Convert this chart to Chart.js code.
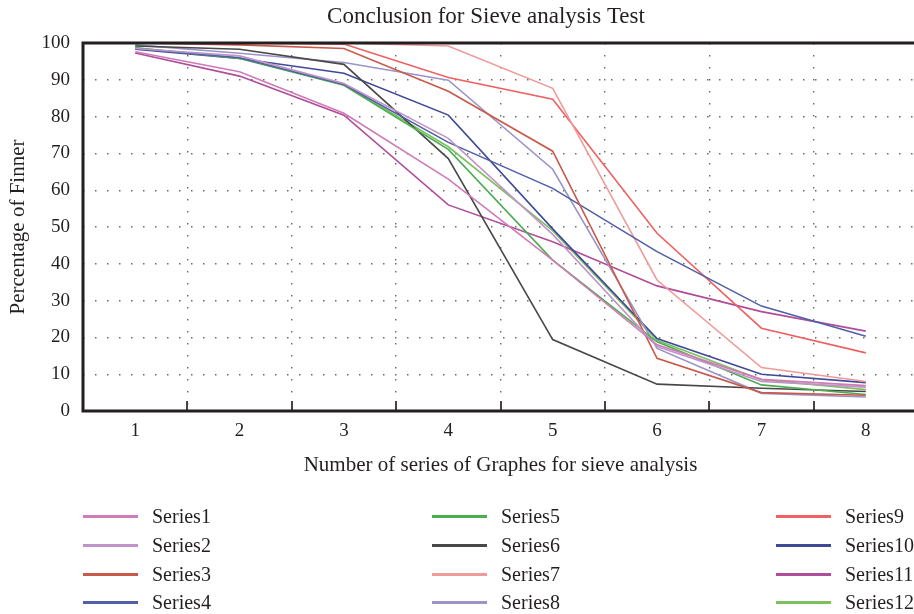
<!DOCTYPE html>
<html>
<head>
<meta charset="utf-8">
<script src="https://cdn.jsdelivr.net/npm/chart.js@4.4.1/dist/chart.umd.min.js"></script>
<style>
  html, body { margin:0; padding:0; background:#fff; overflow:hidden; width:914px; height:614px; }
  #wrap { position:absolute; left:0; top:0; width:918px; height:490px; }
  #legend { position:absolute; left:0; top:0; width:914px; height:614px; pointer-events:none;
            font-family:'Liberation Serif','Times New Roman',serif; color:#231f20; }
  .li-line { position:absolute; width:55px; height:3px; }
  .li-text { position:absolute; font-size:20px; line-height:24px; white-space:nowrap; }
</style>
</head>
<body>
<div id="wrap"><canvas id="c"></canvas></div>
<div id="legend"></div>
<script>
const categories = ['1','2','3','4','5','6','7','8'];
const yTicks = [0,10,20,30,40,50,60,70,80,90,100];
const seriesNames = ['Series1','Series2','Series3','Series4','Series5','Series6','Series7','Series8','Series9','Series10','Series11','Series12'];
const chartTitle = 'Conclusion for Sieve analysis Test';

const series1  = [97.6, 92.2, 80.9, 63.0, 41.0, 18.0, 8.6, 6.9];
const series2  = [98.5, 96.5, 89.0, 74.1, 48.0, 17.5, 8.0, 6.5];
const series3  = [100, 99.5, 98.5, 86.9, 70.6, 14.3, 5.0, 4.3];
const series4  = [98.5, 96.0, 88.7, 73.0, 60.5, 43.3, 28.5, 20.3];
const series5  = [98.7, 95.8, 88.5, 71.1, 41.0, 18.8, 7.1, 4.5];
const series6  = [99.2, 98.3, 94.2, 68.6, 19.4, 7.3, 6.2, 5.3];
const series7  = [100, 100, 100, 99.2, 87.7, 35.6, 11.8, 8.0];
const series8  = [99.5, 97.2, 94.7, 89.9, 65.7, 17.0, 4.8, 3.8];
const series9  = [100, 100, 99.7, 90.6, 84.7, 48.3, 22.5, 15.8];
const series10 = [98.3, 95.8, 91.8, 80.4, 49.5, 19.7, 10.0, 7.7];
const series11 = [97.3, 91.0, 80.4, 56.0, 46.0, 34.0, 27.0, 21.7];
const series12 = [98.7, 96.0, 88.7, 71.8, 49.0, 19.2, 8.5, 5.8];

const allSeries = [series1,series2,series3,series4,series5,series6,series7,series8,series9,series10,series11,series12];
const colors = ['#d07ab8','#c094c8','#c85a4a','#5060a8','#4aae50','#484848','#f09a9a','#9a94c8','#f06060','#3e4a98','#b04c9a','#7ec060'];

const FONT = "'Liberation Serif','Times New Roman',serif";
const INK = '#231f20';

const frame = {
  id: 'frame',
  afterDraw(chart) {
    const {ctx, chartArea:a, scales:{x}} = chart;
    ctx.save();
    // inward tick marks at category boundaries
    const half = (x.getPixelForValue(1) - x.getPixelForValue(0)) / 2;
    ctx.strokeStyle = '#444';
    ctx.lineWidth = 2;
    for (let i = 1; i < categories.length; i++) {
      const px = Math.round(x.getPixelForValue(i) - half);
      ctx.beginPath(); ctx.moveTo(px, a.bottom); ctx.lineTo(px, a.bottom - 10); ctx.stroke();
    }
    // frame: top, left, bottom
    ctx.strokeStyle = INK;
    ctx.lineWidth = 3;
    ctx.beginPath();
    ctx.moveTo(chart.width, a.top); ctx.lineTo(a.left, a.top);
    ctx.lineTo(a.left, a.bottom); ctx.lineTo(chart.width, a.bottom);
    ctx.stroke();
    // chart title
    ctx.fillStyle = INK;
    ctx.font = "23px " + FONT;
    ctx.textAlign = 'center';
    ctx.textBaseline = 'middle';
    ctx.fillText(chartTitle, 486, 17);
    ctx.restore();
  }
};

const chart = new Chart(document.getElementById('c'), {
  type: 'line',
  data: {
    labels: categories,
    datasets: allSeries.map((d, i) => ({
      label: seriesNames[i], data: d, borderColor: colors[i], backgroundColor: colors[i],
      borderWidth: 1.6, pointRadius: 0, tension: 0, fill: false
    }))
  },
  options: {
    responsive: true, maintainAspectRatio: false, animation: false,
    layout: { padding: { left: 0, right: 0, top: 43, bottom: 0 } },
    plugins: {
      legend: { display: false },
      tooltip: { enabled: false },
      title: { display: false }
    },
    scales: {
      x: {
        type: 'category', offset: true,
        grid: { offset: true, display: true, drawTicks: false, color: '#6a6a6a', lineWidth: 1.4 },
        border: { display: false, dash: [1.5, 10.5] },
        ticks: { color: INK, font: { family: FONT, size: 19 }, padding: 9 },
        title: { display: true, text: 'Number of series of Graphes for sieve analysis', color: INK,
                 font: { family: FONT, size: 21 }, padding: { top: 0, bottom: 12.4 } },
        afterFit(s) { s.height = 79; }
      },
      y: {
        min: 0, max: 100,
        afterBuildTicks(s) { s.ticks = yTicks.map(v => ({ value: v })); },
        grid: { drawTicks: false, color: '#6a6a6a', lineWidth: 1.4 },
        border: { display: false, dash: [1.5, 10.5] },
        ticks: { color: INK, font: { family: FONT, size: 19 }, padding: 13 },
        title: { display: true, text: 'Percentage of Finner', color: INK,
                 font: { family: FONT, size: 21 }, padding: { top: 5.4, bottom: 0 } },
        afterFit(s) { s.width = 83; }
      }
    }
  },
  plugins: [frame]
});

// Column-wise legend built from the chart's datasets
const lg = document.getElementById('legend');
const colX = [83, 432, 776];
const rowY = [516, 545, 574, 602];
chart.data.datasets.forEach((ds, i) => {
  const col = Math.floor(i / 4), row = i % 4;
  const line = document.createElement('div');
  line.className = 'li-line';
  line.style.left = colX[col] + 'px';
  line.style.top = (rowY[row] - 1.5) + 'px';
  line.style.background = ds.borderColor;
  const t = document.createElement('div');
  t.className = 'li-text';
  t.style.left = (colX[col] + 69) + 'px';
  t.style.top = (rowY[row] - 12) + 'px';
  t.textContent = ds.label;
  lg.appendChild(line); lg.appendChild(t);
});
</script>
</body>
</html>
